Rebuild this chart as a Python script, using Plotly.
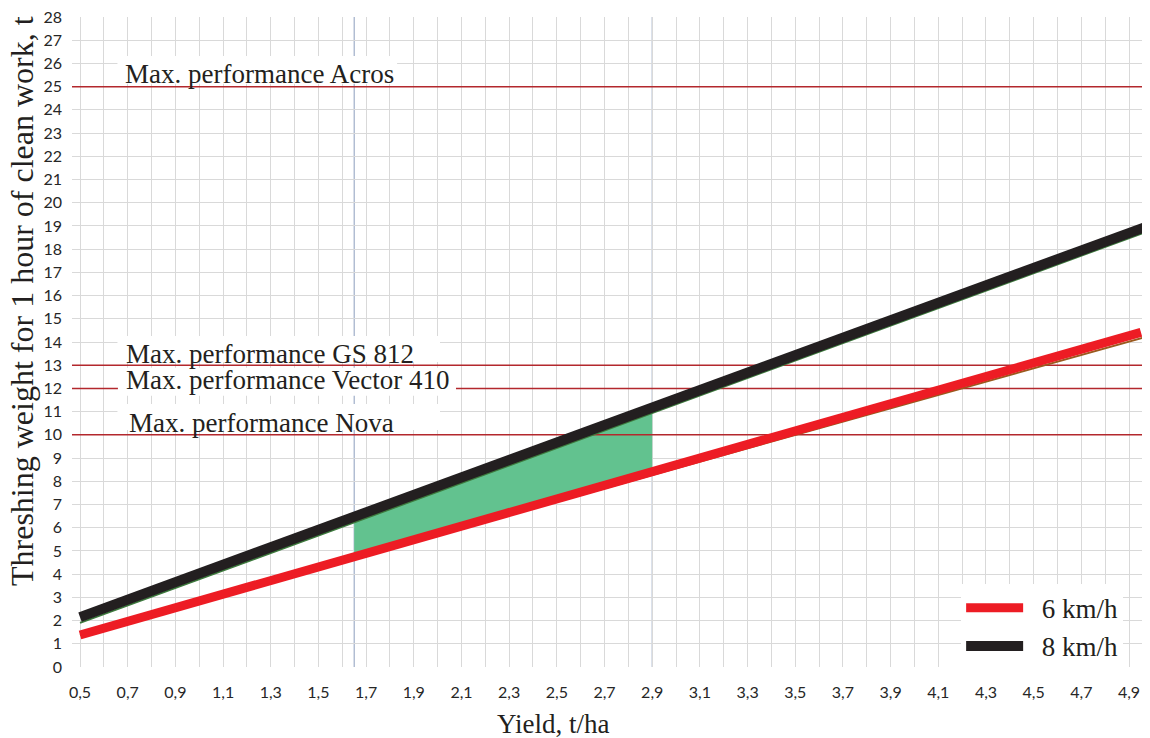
import numpy as np
import plotly.graph_objects as go

# ---- data ----
yield_8 = [0.5, 1.0, 1.5, 2.0, 2.5, 3.0, 3.5, 4.0, 4.5, 4.97]
thr_8 = [2.15, 4.03, 5.91, 7.79, 9.67, 11.55, 13.43, 15.31, 17.19, 18.96]
yield_6 = [0.5, 1.0, 1.5, 2.0, 2.5, 3.0, 3.5, 4.0, 4.5, 4.95]
thr_6 = [1.38, 2.85, 4.31, 5.78, 7.24, 8.71, 10.17, 11.64, 13.10, 14.42]
# thin trend lines partly hidden under the thick series
trend_x = [0.5, 5.0]
trend_6 = [1.38, 14.30]
trend_8 = [1.90, 18.85]

limit_names = ["Max. performance Acros", "Max. performance GS 812",
               "Max. performance Vector 410", "Max. performance Nova"]
limit_values = [25, 13, 12, 10]
region = [1.65, 2.9]  # highlighted yield range

x_ticks = [round(0.5 + 0.2 * i, 1) for i in range(23)]
x_ticktext = [f"{v:.1f}".replace(".", ",") for v in x_ticks]
y_ticks = list(range(0, 29))

serif = "Liberation Serif"
RED = "#ed1c24"
BLACK = "#231f20"
LIMIT = "#b3282d"
NB = "\u00a0\u00a0"

fig = go.Figure()

# green highlighted area between the two series
xs = [region[0]] + [x for x in yield_8 if region[0] < x < region[1]] + [region[1]]
top = np.interp(xs, yield_8, thr_8)
bot = np.interp(xs, yield_6, thr_6)
fig.add_trace(go.Scatter(x=list(xs) + list(xs[::-1]), y=list(top) + list(bot[::-1]),
                         fill="toself", fillcolor="#62c28f", line=dict(width=0),
                         mode="lines", showlegend=False, hoverinfo="skip"))

# horizontal max-performance lines
for v in limit_values:
    fig.add_trace(go.Scatter(x=[0.3, 5.2], y=[v, v], mode="lines",
                             line=dict(color=LIMIT, width=1.5),
                             showlegend=False, hoverinfo="skip"))

# Vector 410 label box hides its own line
fig.add_trace(go.Scatter(x=[0.659, 2.077, 2.077, 0.659], y=[11.68, 11.68, 12.89, 12.89],
                         fill="toself", fillcolor="white", line=dict(width=0),
                         mode="lines", showlegend=False, hoverinfo="skip"))

fig.add_trace(go.Scatter(x=trend_x, y=trend_6, mode="lines",
                         line=dict(color="#9a5a1e", width=2), showlegend=False))
fig.add_trace(go.Scatter(x=trend_x, y=trend_8, mode="lines",
                         line=dict(color="#3d7a3d", width=2), showlegend=False))
fig.add_trace(go.Scatter(x=yield_6, y=thr_6, mode="lines", name=NB + "6 km/h",
                         line=dict(color=RED, width=9)))
fig.add_trace(go.Scatter(x=yield_8, y=thr_8, mode="lines", name=NB + "8 km/h",
                         line=dict(color=BLACK, width=10)))

# vertical region markers
for xv in region:
    fig.add_shape(type="line", x0=xv, x1=xv, y0=0, y1=1, xref="x", yref="paper",
                  line=dict(color="#8c9dbd", width=1), layer="between")

# white boxes behind labels (cover gridlines)
box_off = {"Max. performance Acros": (0.12, 1.32, 1.83),
           "Max. performance GS 812": (0.14, 1.26, 2.01),
           "Max. performance Nova": (0.21, 1.33, 2.01)}
for name, v in zip(limit_names, limit_values):
    if name in box_off:
        lo, hi, xr = box_off[name]
        fig.add_shape(type="rect", x0=0.657, x1=xr, y0=v + lo, y1=v + hi,
                      fillcolor="white", line=dict(width=0), layer="between")

label_dy = [0.55, 0.49, 0.37, 0.51]
label_x = [0.685, 0.69, 0.69, 0.702]
for name, v, dy, lx in zip(limit_names, limit_values, label_dy, label_x):
    fig.add_annotation(x=lx, y=v + dy, xref="x", yref="y", text=name, showarrow=False,
                       xanchor="left", yanchor="middle", borderpad=0,
                       font=dict(family=serif, size=27, color="#231f20"))

fig.add_annotation(text="Threshing weight for 1 hour of clean work, t", textangle=-90,
                   xref="paper", yref="paper", x=-0.0464, y=0.563, showarrow=False,
                   xanchor="center", yanchor="middle",
                   font=dict(family=serif, size=32, color="#231f20"))
fig.add_annotation(text="Yield, t/ha", xref="paper", yref="paper", x=0.446, y=0,
                   yshift=-57, showarrow=False, xanchor="center", yanchor="middle",
                   font=dict(family=serif, size=27, color="#231f20"))

# the page body adds an 8px offset, so the figure is 8px smaller than the window
fig.update_layout(
    template="none",
    width=1142, height=730,
    margin=dict(l=64, r=0, t=9, b=71, autoexpand=False),
    paper_bgcolor="white", plot_bgcolor="white",
    showlegend=True,
    legend=dict(x=0.8248, y=0.128, xanchor="left", yanchor="top",
                bgcolor="white", borderwidth=0, itemwidth=57,
                font=dict(family=serif, size=27, color="#231f20")),
    xaxis=dict(range=[0.4664, 4.988], tickvals=x_ticks, ticktext=x_ticktext,
               automargin=False, ticklabeloverflow="allow",
               showgrid=True, gridcolor="#d9d9d9", gridwidth=1, zeroline=False,
               showline=False, ticks="", ticklabelstandoff=14,
               tickfont=dict(family="Lato", size=16, color="#262626"),
               minor=dict(tick0=0.5, dtick=0.1, showgrid=True, gridcolor="#d9d9d9", gridwidth=1)),
    yaxis=dict(range=[0, 28], tickvals=y_ticks, showgrid=True, gridcolor="#d9d9d9",
               automargin=False, ticklabeloverflow="allow",
               gridwidth=1, zeroline=False, showline=False, ticks="", ticklabelstandoff=9,
               tickfont=dict(family="Lato", size=16, color="#262626")),
)

fig.write_html("out.html")
